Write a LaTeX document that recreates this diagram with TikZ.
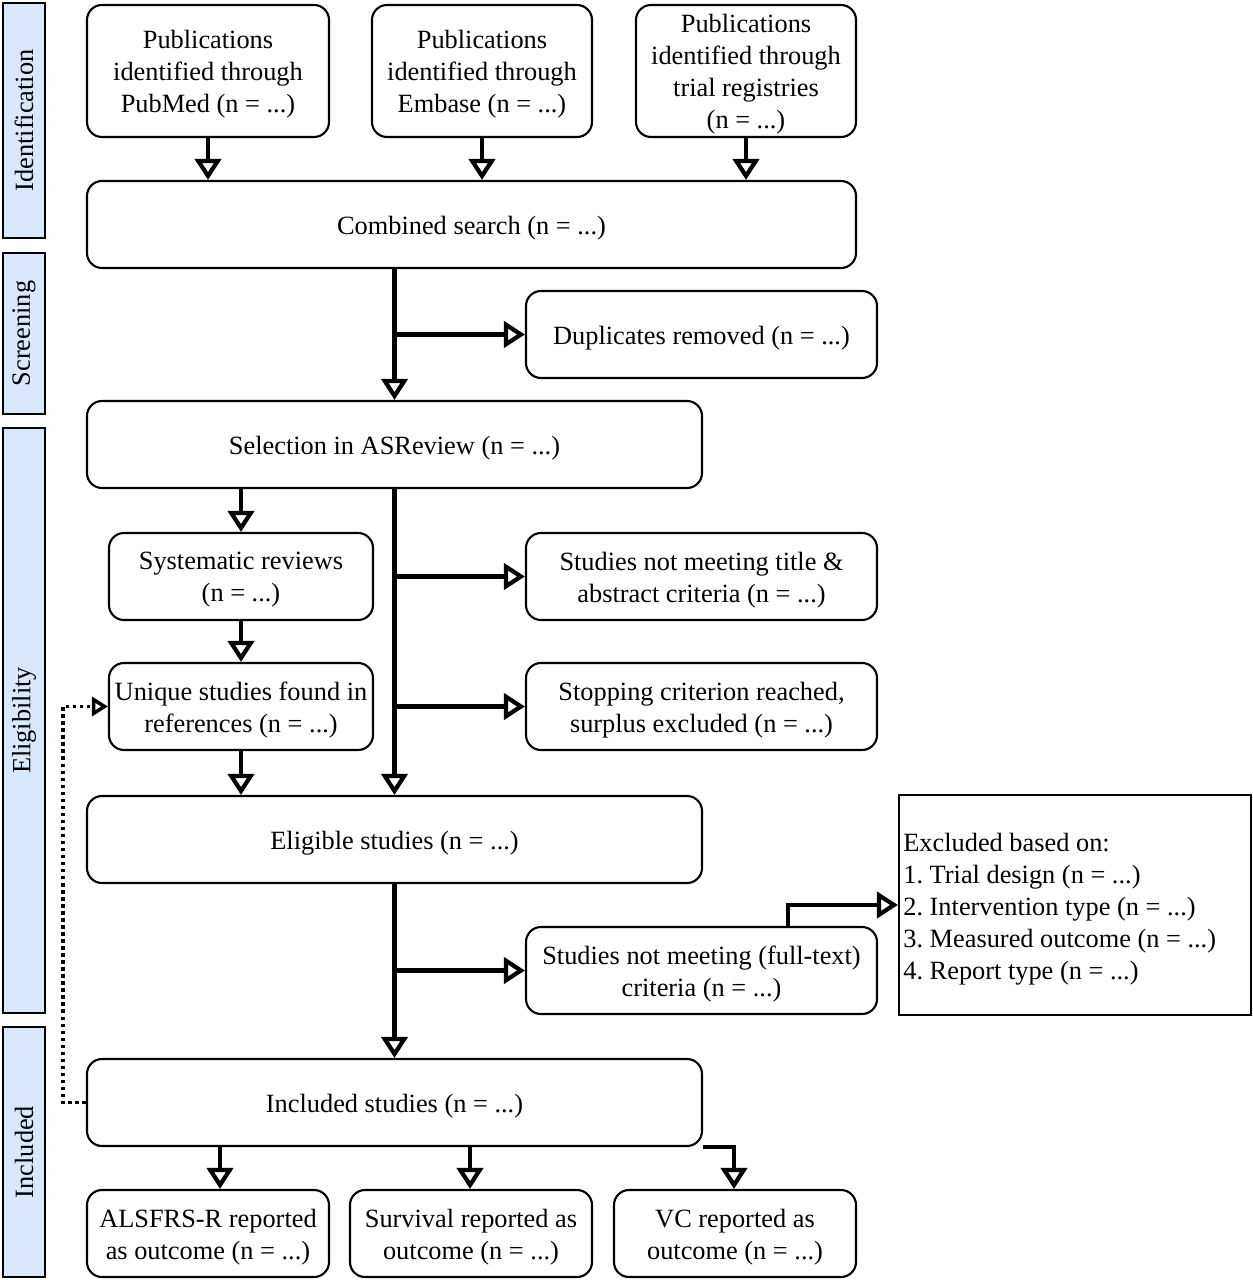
\documentclass[tikz,border=0pt]{standalone}
\usepackage{fontspec}
\setmainfont{Liberation Serif}
\usetikzlibrary{arrows.meta}
\definecolor{sidefill}{HTML}{DAE8FC}
\tikzset{
  txt/.style={font=\frenchspacing\fontsize{15}{18.2}\selectfont},
  lbl/.style={txt, align=center, inner sep=0pt, yshift=-0.065cm},
  box/.style={draw=black, line width=1.2pt, rounded corners=0.3cm, inner sep=0pt},
  t/.style={label={[lbl]center:{#1}}},
  bw/.style={minimum width=#1*0.02cm},
  bh/.style={minimum height=#1*0.02cm},
  side/.style={txt, draw=black, line width=1.2pt, fill=sidefill, rotate=90, inner sep=0pt},
  plain/.style={draw=black, line width=1.2pt, inner sep=0pt},
  arr/.style={line width=2.3pt, -{Triangle[open, length=0.42cm, width=0.52cm, line width=2.4pt]}},
  dotarr/.style={line width=2pt, dash pattern=on 2pt off 2pt, -{Triangle[open, length=0.32cm, width=0.38cm, line width=2pt]}}
}
\begin{document}
\begin{tikzpicture}[x=0.02cm, y=-0.02cm]
\useasboundingbox (0,0) rectangle (1252,1280);
% side bars
\node[side, bw=235, bh=42] (sid) at (24,120.5) {Identification};
\node[side, bw=161, bh=42] (ssc) at (24,333.5) {Screening};
\node[side, bw=585, bh=42] (sel) at (24,720.5) {Eligibility};
\node[side, bw=250, bh=42] (sin) at (24,1152) {Included};
% boxes
\node[box, bw=242, bh=132, t={Publications\\identified through\\PubMed (n = ...)}] (pub) at (208,71) {};
\node[box, bw=220, bh=132, t={Publications\\identified through\\Embase (n = ...)}] (emb) at (482,71) {};
\node[box, bw=220, bh=132, t={Publications\\identified through\\trial registries\\(n = ...)}] (reg) at (746,71) {};
\node[box, bw=769, bh=87, t={Combined search (n = ...)}] (comb) at (471.5,224.5) {};
\node[box, bw=351, bh=87, t={Duplicates removed (n = ...)}] (dup) at (701.5,334.5) {};
\node[box, bw=615, bh=87, t={Selection in ASReview (n = ...)}] (asr) at (394.5,444.5) {};
\node[box, bw=264, bh=87, t={Systematic reviews\\(n = ...)}] (sys) at (241,576.5) {};
\node[box, bw=351, bh=87, t={Studies not meeting title \&\\abstract criteria (n = ...)}] (tit) at (701.5,576.5) {};
\node[box, bw=264, bh=87, t={Unique studies found in\\references (n = ...)}] (uni) at (241,706.5) {};
\node[box, bw=351, bh=87, t={Stopping criterion reached,\\surplus excluded (n = ...)}] (stp) at (701.5,706.5) {};
\node[box, bw=615, bh=87, t={Eligible studies (n = ...)}] (eli) at (394.5,839.5) {};
\node[box, bw=351, bh=87, t={Studies not meeting (full-text)\\criteria (n = ...)}] (ful) at (701.5,970.5) {};
\node[plain, bw=352, bh=220] (exc) at (1075,905) {};
\node[txt, align=left, inner sep=0pt, anchor=west] (exct) at (903,909) {Excluded based on:\\1. Trial design (n = ...)\\2. Intervention type (n = ...)\\3. Measured outcome (n = ...)\\4. Report type (n = ...)};
\node[box, bw=615, bh=87, t={Included studies (n = ...)}] (inc) at (394.5,1102.5) {};
\node[box, bw=242, bh=87, t={ALSFRS-R reported\\as outcome (n = ...)}] (als) at (208,1233.5) {};
\node[box, bw=242, bh=87, t={Survival reported as\\outcome (n = ...)}] (sur) at (471,1233.5) {};
\node[box, bw=242, bh=87, t={VC reported as\\outcome (n = ...)}] (vc) at (735,1233.5) {};
% helper coordinates
\coordinate (ax) at (220,0);
\coordinate (sx) at (470,0);
\coordinate (vx) at (734,0);
\coordinate (fx) at (788,0);
\coordinate (dl) at (63,0);
% arrows
\draw[arr] (pub.south) -- (pub.south |- comb.north);
\draw[arr] (emb.south) -- (emb.south |- comb.north);
\draw[arr] (reg.south) -- (reg.south |- comb.north);
\draw[arr] (comb.south -| asr.north) -- (asr.north);
\draw[arr] (asr.north |- dup.west) -- (dup.west);
\draw[arr] (asr.south -| sys.north) -- (sys.north);
\draw[arr] (sys.south) -- (uni.north);
\draw[arr] (uni.south) -- (uni.south |- eli.north);
\draw[arr] (asr.south) -- (eli.north);
\draw[arr] (asr.south |- tit.west) -- (tit.west);
\draw[arr] (asr.south |- stp.west) -- (stp.west);
\draw[arr] (eli.south) -- (inc.north);
\draw[arr] (eli.south |- ful.west) -- (ful.west);
\draw[arr] (ful.north -| fx) |- (exc.west);
\draw[dotarr] (inc.west) -- (inc.west -| dl) |- (uni.west);
\draw[arr] (inc.south -| ax) -- (als.north -| ax);
\draw[arr] (inc.south -| sx) -- (sur.north -| sx);
\draw[arr] (inc.south east) -| (vc.north -| vx);
\end{tikzpicture}
\end{document}
